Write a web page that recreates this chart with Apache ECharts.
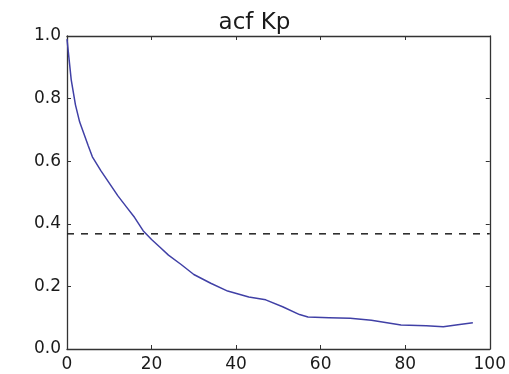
<!DOCTYPE html>
<html><head><meta charset="utf-8">
<script src="https://cdn.jsdelivr.net/npm/echarts@6/dist/echarts.min.js"></script>
<style>html,body{margin:0;padding:0;background:#fff}#c{width:509px;height:374px}</style>
</head><body><div id="c"></div>
<script>
var title = 'acf Kp';
var lags = [0, 1, 2, 3, 5, 6, 8, 10, 12, 14, 16, 18, 20, 22, 24, 27, 30, 34, 38, 43, 47, 51, 55, 57, 62, 67, 72, 79, 85, 89, 92, 96];
var acf = [0.99, 0.86, 0.78, 0.725, 0.65, 0.614, 0.57, 0.53, 0.49, 0.455, 0.42, 0.378, 0.35, 0.325, 0.30, 0.27, 0.238, 0.21, 0.185, 0.166, 0.157, 0.135, 0.11, 0.102, 0.1, 0.098, 0.092, 0.077, 0.074, 0.071, 0.077, 0.084];
var threshold = 0.368;
var xTicks = [0, 20, 40, 60, 80, 100];
var yTicks = [0.0, 0.2, 0.4, 0.6, 0.8, 1.0];

var chart = echarts.init(document.getElementById('c'), null, {renderer: 'canvas'});
var font = 'DejaVu Sans';
function axisBase(extra) {
  return Object.assign({
    type: 'value',
    axisLine: {show: true, onZero: false, lineStyle: {color: '#333', width: 1.3}},
    axisTick: {show: true, inside: true, length: 4, lineStyle: {color: '#333', width: 1}},
    splitLine: {show: false}
  }, extra);
}
chart.setOption({
  animation: false,
  title: {text: title, left: 'center', top: 7, textStyle: {fontFamily: font, fontSize: 23, fontWeight: 'normal', color: '#1a1a1a'}},
  grid: {left: 67, right: 19, top: 36, bottom: 25, containLabel: false},
  xAxis: [
    axisBase({position: 'bottom', min: xTicks[0], max: xTicks[xTicks.length-1], interval: 20,
      axisLabel: {fontFamily: font, fontSize: 17, color: '#1a1a1a', margin: 7, formatter: function(v){return String(v);}}}),
    axisBase({position: 'top', min: xTicks[0], max: xTicks[xTicks.length-1], interval: 20, axisLabel: {show: false}})
  ],
  yAxis: [
    axisBase({position: 'left', min: yTicks[0], max: yTicks[yTicks.length-1], interval: 0.2,
      axisLabel: {fontFamily: font, fontSize: 17, color: '#1a1a1a', margin: 6, formatter: function(v){return v.toFixed(1);}}}),
    axisBase({position: 'right', min: yTicks[0], max: yTicks[yTicks.length-1], interval: 0.2, axisLabel: {show: false}})
  ],
  series: [
    {type: 'line', data: lags.map(function(l, i){return [l, acf[i]];}), showSymbol: false, symbol: 'none',
     lineStyle: {color: '#4040a6', width: 1.5}, smooth: false},
    {type: 'line', data: [[xTicks[0], threshold], [xTicks[xTicks.length-1], threshold]], symbol: 'none',
     lineStyle: {color: '#222', width: 1.5, type: [7, 7]}}
  ]
});
</script></body></html>
